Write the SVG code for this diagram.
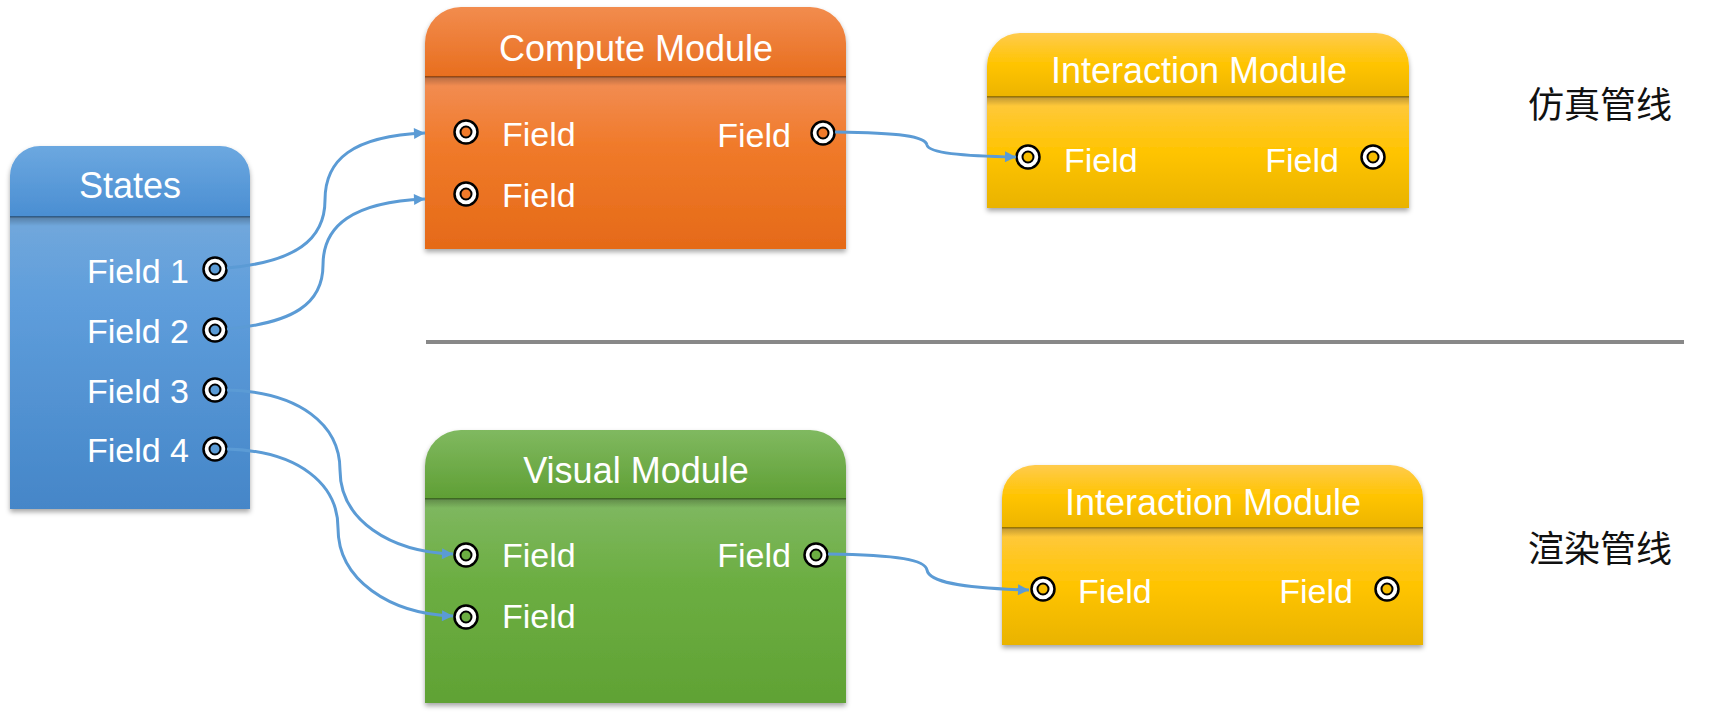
<svg xmlns="http://www.w3.org/2000/svg" width="1730" height="716" viewBox="0 0 1730 716">
<defs>
<style>
.title{font-family:"Liberation Sans",Arial,sans-serif;font-size:36px;fill:#fff;text-anchor:middle}
.fld{font-family:"Liberation Sans",Arial,sans-serif;font-size:34px;fill:#fff}
.end{text-anchor:end}
.cn{font-family:"Noto Sans CJK SC",sans-serif;font-size:36px;fill:#111;text-anchor:middle}
.conn{fill:none;stroke:#5b9bd5;stroke-width:3}
.po{fill:#fff;stroke:#000;stroke-width:2.5}
.sep{stroke:#000;stroke-opacity:0.35;stroke-width:2}
</style>
<filter id="sh" x="-5%" y="-5%" width="110%" height="115%">
<feDropShadow dx="0" dy="3" stdDeviation="2.5" flood-color="#000" flood-opacity="0.35"/>
</filter>
<linearGradient id="sepsh" x1="0" y1="0" x2="0" y2="1"><stop offset="0" stop-color="#000" stop-opacity="0.22"/><stop offset="1" stop-color="#000" stop-opacity="0"/></linearGradient>
<linearGradient id="bH" x1="0" y1="0" x2="0" y2="1"><stop offset="0" stop-color="#6ca8e0"/><stop offset="1" stop-color="#4a8ed2"/></linearGradient>
<linearGradient id="bB" x1="0" y1="0" x2="0" y2="1"><stop offset="0" stop-color="#72a8dc"/><stop offset="0.3" stop-color="#5e9ddb"/><stop offset="1" stop-color="#4586c8"/></linearGradient>
<linearGradient id="oH" x1="0" y1="0" x2="0" y2="1"><stop offset="0" stop-color="#f28c4e"/><stop offset="1" stop-color="#e86e1e"/></linearGradient>
<linearGradient id="oB" x1="0" y1="0" x2="0" y2="1"><stop offset="0" stop-color="#f28e56"/><stop offset="0.4" stop-color="#f07a2a"/><stop offset="1" stop-color="#e56a18"/></linearGradient>
<linearGradient id="yH" x1="0" y1="0" x2="0" y2="1"><stop offset="0" stop-color="#ffcb4c"/><stop offset="0.5" stop-color="#ffc400"/><stop offset="1" stop-color="#ecb400"/></linearGradient>
<linearGradient id="yB" x1="0" y1="0" x2="0" y2="1"><stop offset="0" stop-color="#ffc943"/><stop offset="0.5" stop-color="#ffc400"/><stop offset="1" stop-color="#e9b300"/></linearGradient>
<linearGradient id="gH" x1="0" y1="0" x2="0" y2="1"><stop offset="0" stop-color="#80b960"/><stop offset="1" stop-color="#5f9f34"/></linearGradient>
<linearGradient id="gB" x1="0" y1="0" x2="0" y2="1"><stop offset="0" stop-color="#80b862"/><stop offset="0.4" stop-color="#6cae42"/><stop offset="1" stop-color="#60a234"/></linearGradient>
<marker id="arr" viewBox="0 0 10 10" refX="10" refY="5" markerWidth="13" markerHeight="11" markerUnits="userSpaceOnUse" orient="auto"><path d="M0,0 L10,5 L0,10 z" fill="#5b9bd5"/></marker>
</defs>
<rect width="1730" height="716" fill="#fff"/>

<line x1="426" y1="342" x2="1684" y2="342" stroke="#888" stroke-width="4"/>
<text class="cn" x="1600" y="118">仿真管线</text>
<text class="cn" x="1600" y="562">渲染管线</text>

<g id="states">
<g filter="url(#sh)">
<path d="M10,176 A30,30 0 0 1 40,146 H220 A30,30 0 0 1 250,176 V217 H10 Z" fill="url(#bH)"/>
<rect x="10" y="217" width="240" height="292" fill="url(#bB)"/>
</g>
<rect x="10" y="218" width="240" height="8" fill="url(#sepsh)"/>
<line class="sep" x1="10" y1="217" x2="250" y2="217"/>
<text class="title" x="130" y="198">States</text>
<text class="fld end" x="189" y="283">Field 1</text>
<text class="fld end" x="189" y="343">Field 2</text>
<text class="fld end" x="189" y="403">Field 3</text>
<text class="fld end" x="189" y="462">Field 4</text>
<circle class="po" cx="215" cy="269" r="11.5"/><circle cx="215" cy="269" r="5.5" fill="#5b9bd5" stroke="#000" stroke-width="2"/>
<circle class="po" cx="215" cy="330" r="11.5"/><circle cx="215" cy="330" r="5.5" fill="#5b9bd5" stroke="#000" stroke-width="2"/>
<circle class="po" cx="215" cy="390" r="11.5"/><circle cx="215" cy="390" r="5.5" fill="#5b9bd5" stroke="#000" stroke-width="2"/>
<circle class="po" cx="215" cy="449" r="11.5"/><circle cx="215" cy="449" r="5.5" fill="#5b9bd5" stroke="#000" stroke-width="2"/>
</g>

<g id="compute">
<g filter="url(#sh)">
<path d="M425,43 A36,36 0 0 1 461,7 H810 A36,36 0 0 1 846,43 V77 H425 Z" fill="url(#oH)"/>
<rect x="425" y="77" width="421" height="172" fill="url(#oB)"/>
</g>
<rect x="425" y="78" width="421" height="8" fill="url(#sepsh)"/>
<line class="sep" x1="425" y1="77" x2="846" y2="77"/>
<text class="title" x="636" y="61">Compute Module</text>
<text class="fld" x="502" y="146">Field</text>
<text class="fld" x="502" y="207">Field</text>
<text class="fld end" x="791" y="147">Field</text>
<circle class="po" cx="466" cy="132" r="11.5"/><circle cx="466" cy="132" r="5.5" fill="#f07a2a" stroke="#000" stroke-width="2"/>
<circle class="po" cx="466" cy="194" r="11.5"/><circle cx="466" cy="194" r="5.5" fill="#f07a2a" stroke="#000" stroke-width="2"/>
<circle class="po" cx="823" cy="133" r="11.5"/><circle cx="823" cy="133" r="5.5" fill="#f07a2a" stroke="#000" stroke-width="2"/>
</g>

<g id="interaction1">
<g filter="url(#sh)">
<path d="M987,66 A33,33 0 0 1 1020,33 H1376 A33,33 0 0 1 1409,66 V97 H987 Z" fill="url(#yH)"/>
<rect x="987" y="97" width="422" height="111" fill="url(#yB)"/>
</g>
<rect x="987" y="98" width="422" height="8" fill="url(#sepsh)"/>
<line class="sep" x1="987" y1="97" x2="1409" y2="97"/>
<text class="title" x="1199" y="83">Interaction Module</text>
<text class="fld" x="1064" y="172">Field</text>
<text class="fld end" x="1339" y="172">Field</text>
<circle class="po" cx="1028" cy="157" r="11.5"/><circle cx="1028" cy="157" r="5.5" fill="#f5bc00" stroke="#000" stroke-width="2"/>
<circle class="po" cx="1373" cy="157" r="11.5"/><circle cx="1373" cy="157" r="5.5" fill="#f5bc00" stroke="#000" stroke-width="2"/>
</g>

<g id="visual">
<g filter="url(#sh)">
<path d="M425,466 A36,36 0 0 1 461,430 H810 A36,36 0 0 1 846,466 V499 H425 Z" fill="url(#gH)"/>
<rect x="425" y="499" width="421" height="204" fill="url(#gB)"/>
</g>
<rect x="425" y="500" width="421" height="8" fill="url(#sepsh)"/>
<line class="sep" x1="425" y1="499" x2="846" y2="499"/>
<text class="title" x="636" y="483">Visual Module</text>
<text class="fld" x="502" y="567">Field</text>
<text class="fld" x="502" y="628">Field</text>
<text class="fld end" x="791" y="567">Field</text>
<circle class="po" cx="466" cy="555" r="11.5"/><circle cx="466" cy="555" r="5.5" fill="#6cae42" stroke="#000" stroke-width="2"/>
<circle class="po" cx="466" cy="617" r="11.5"/><circle cx="466" cy="617" r="5.5" fill="#6cae42" stroke="#000" stroke-width="2"/>
<circle class="po" cx="816" cy="555" r="11.5"/><circle cx="816" cy="555" r="5.5" fill="#6cae42" stroke="#000" stroke-width="2"/>
</g>

<g id="interaction2">
<g filter="url(#sh)">
<path d="M1002,498 A33,33 0 0 1 1035,465 H1390 A33,33 0 0 1 1423,498 V528 H1002 Z" fill="url(#yH)"/>
<rect x="1002" y="528" width="421" height="117" fill="url(#yB)"/>
</g>
<rect x="1002" y="529" width="421" height="8" fill="url(#sepsh)"/>
<line class="sep" x1="1002" y1="528" x2="1423" y2="528"/>
<text class="title" x="1213" y="515">Interaction Module</text>
<text class="fld" x="1078" y="603">Field</text>
<text class="fld end" x="1353" y="603">Field</text>
<circle class="po" cx="1043" cy="589" r="11.5"/><circle cx="1043" cy="589" r="5.5" fill="#f5bc00" stroke="#000" stroke-width="2"/>
<circle class="po" cx="1387" cy="589" r="11.5"/><circle cx="1387" cy="589" r="5.5" fill="#f5bc00" stroke="#000" stroke-width="2"/>
</g>

<g id="connectors">
<path class="conn" d="M227,268 C295,262 325,240 325,200 C325,160 352,136 425,133" marker-end="url(#arr)"/>
<path class="conn" d="M227,329 C293,323 323,304 323,265 C323,226 352,202 425,199" marker-end="url(#arr)"/>
<path class="conn" d="M227,390 C300,392 340,425 340,470 C340,520 390,552 453,554" marker-end="url(#arr)"/>
<path class="conn" d="M227,449 C300,451 338,485 338,528 C338,580 390,614 453,616" marker-end="url(#arr)"/>
<path class="conn" d="M835,132 C900,133 925,136 927,145 C929,153 960,156 1016,157" marker-end="url(#arr)"/>
<path class="conn" d="M828,554 C900,555 925,560 927,570 C929,582 960,588 1029,590" marker-end="url(#arr)"/>
</g>
</svg>
